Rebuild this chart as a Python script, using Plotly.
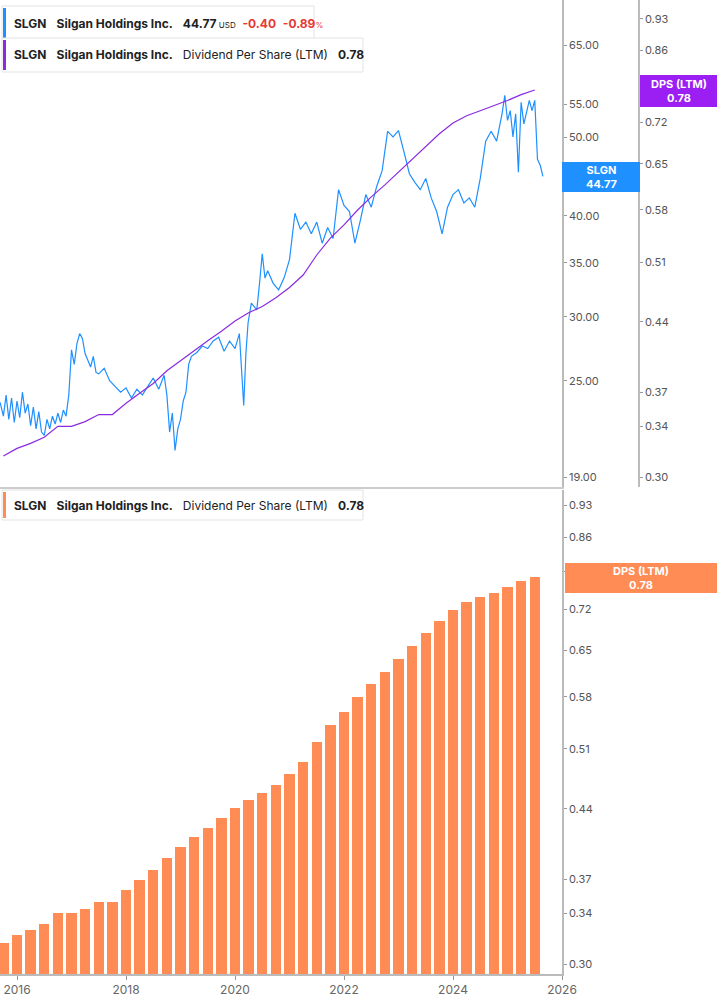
import numpy as np
import plotly.graph_objects as go

# Quarterly DPS (LTM)
dps_t = [2015.75 + 0.25 * i for i in range(40)]
dps_v = [0.316, 0.322, 0.326, 0.331, 0.340, 0.340, 0.344, 0.350, 0.350, 0.360,
         0.369, 0.378, 0.390, 0.400, 0.410, 0.420, 0.430, 0.441, 0.450, 0.457,
         0.467, 0.479, 0.494, 0.519, 0.541, 0.559, 0.580, 0.599, 0.617, 0.637,
         0.658, 0.679, 0.700, 0.719, 0.732, 0.741, 0.750, 0.760, 0.771, 0.780]

# Price (approximate readings)
px_t = [2015.69, 2015.75, 2015.8, 2015.85, 2015.9, 2015.95, 2016.0, 2016.05, 2016.1, 2016.15, 2016.2,
        2016.25, 2016.3, 2016.35, 2016.4, 2016.45, 2016.5, 2016.55, 2016.6, 2016.65, 2016.7,
        2016.75, 2016.8, 2016.85, 2016.9, 2016.95, 2017.0, 2017.05, 2017.1, 2017.15, 2017.2,
        2017.25, 2017.3, 2017.35, 2017.4, 2017.45, 2017.5, 2017.6, 2017.7, 2017.8, 2017.9,
        2018.0, 2018.1, 2018.2, 2018.3, 2018.4, 2018.5, 2018.6, 2018.7, 2018.75, 2018.8,
        2018.85, 2018.9, 2018.95, 2019.0, 2019.05, 2019.1, 2019.15, 2019.2, 2019.3, 2019.4,
        2019.5, 2019.6, 2019.7, 2019.8, 2019.9, 2020.0, 2020.08, 2020.12, 2020.16, 2020.2,
        2020.24, 2020.3, 2020.4, 2020.45, 2020.5, 2020.55, 2020.6, 2020.7, 2020.8, 2020.9,
        2021.0, 2021.1, 2021.2, 2021.3, 2021.4, 2021.5, 2021.6, 2021.7, 2021.8, 2021.9,
        2022.0, 2022.1, 2022.2, 2022.3, 2022.4, 2022.5, 2022.6, 2022.7, 2022.8, 2022.9,
        2023.0, 2023.1, 2023.2, 2023.3, 2023.4, 2023.5, 2023.6, 2023.7, 2023.8, 2023.9,
        2024.0, 2024.1, 2024.2, 2024.3, 2024.4, 2024.5, 2024.6, 2024.7, 2024.8, 2024.9,
        2024.95, 2025.0, 2025.05, 2025.1, 2025.15, 2025.2, 2025.25, 2025.3, 2025.35, 2025.4,
        2025.45, 2025.5, 2025.55, 2025.6, 2025.65]
px_v = [23.5, 22.6, 24.0, 22.4, 23.8, 22.2, 23.6, 22.5, 24.2, 22.8, 23.4,
        22.0, 23.2, 21.8, 22.9, 21.6, 21.4, 22.4, 21.8, 22.6, 22.1,
        22.8, 22.2, 23.0, 22.6, 24.0, 27.3, 26.2, 27.8, 28.6, 28.2,
        27.0, 26.5, 26.0, 26.8, 25.6, 25.5, 25.9, 25.0, 24.6, 24.2,
        24.5, 23.8, 24.4, 24.0, 24.6, 25.2, 24.4, 25.4, 24.0, 21.6,
        22.8, 20.5, 21.8, 22.4, 23.6, 24.2, 26.2, 26.8, 27.1, 27.6,
        27.4, 28.0, 28.3, 27.2, 28.0, 27.4, 28.6, 26.0, 23.3, 27.0,
        29.5, 31.2, 30.6, 33.0, 35.9, 33.5, 34.2, 33.0, 32.4, 33.5,
        35.3, 40.3, 38.5, 39.3, 38.0, 39.3, 37.0, 38.7, 37.5, 43.1,
        41.2, 40.5, 37.0, 39.5, 42.5, 41.0, 43.5, 45.5, 50.9, 50.1,
        51.0, 48.0, 45.1, 44.0, 43.1, 44.5, 42.1, 40.5, 38.0, 41.0,
        42.5, 43.1, 41.5, 42.1, 41.0, 44.5, 49.5, 50.9, 49.5, 53.5,
        56.4, 52.5, 54.0, 50.1, 53.5, 45.3, 55.3, 52.0, 53.7, 55.6,
        54.0, 55.6, 47.0, 46.2, 44.77]

years = list(range(2016, 2027, 2))
price_ticks = [19, 25, 30, 35, 40, 45, 50, 55, 65]
dps_ticks_top = [0.30, 0.34, 0.37, 0.44, 0.51, 0.58, 0.65, 0.72, 0.86, 0.93]
dps_ticks_bot = [0.30, 0.34, 0.37, 0.44, 0.51, 0.58, 0.65, 0.72, 0.79, 0.86, 0.93]

W, H = 717, 1005
BLUE = "#1E90FF"
PURPLE = "#8A2BE2"
ORANGE = "#FF8C55"
FONT = "Inter"
TICKC = "#555"

fig = go.Figure()
fig.add_trace(go.Scatter(x=px_t, y=px_v, mode="lines", line=dict(color=BLUE, width=1.2),
                         xaxis="x", yaxis="y"))
fig.add_trace(go.Scatter(x=dps_t, y=dps_v, mode="lines", line=dict(color=PURPLE, width=1.2),
                         xaxis="x", yaxis="y2"))
fig.add_trace(go.Bar(x=dps_t, y=dps_v, marker=dict(color=ORANGE, line=dict(width=0)),
                     width=0.19, xaxis="x2", yaxis="y3"))

xr = [2015.688, 2026.0]
xdom = [0, 562 / W]
top_dom = [1 - 487 / H, 1]
bot_dom = [1 - 974 / H, 1 - 490 / H]

def lg(a, b):
    return [np.log10(a), np.log10(b)]

common_y = dict(type="log", side="right", ticks="outside", ticklen=3, tickcolor="#999",
                showgrid=False, zeroline=False, showline=True, linecolor="#bbb", linewidth=1.5,
                automargin=False, tickfont=dict(size=11, color=TICKC, family=FONT))

fig.update_layout(
    width=W, height=H, margin=dict(l=0, r=0, t=0, b=0, autoexpand=False),
    paper_bgcolor="white", plot_bgcolor="white", showlegend=False,
    font=dict(family=FONT, size=11, color=TICKC),
    xaxis=dict(domain=xdom, range=xr, anchor="y", showticklabels=False, showgrid=False,
               zeroline=False, showline=True, linecolor="#ccc", linewidth=1.5, automargin=False),
    xaxis2=dict(domain=xdom, range=xr, anchor="y3", tickvals=years, ticktext=[str(y) for y in years],
                ticks="outside", ticklen=4, tickcolor="#999", showgrid=False, zeroline=False,
                showline=True, linecolor="#bbb", linewidth=2, automargin=False,
                tickfont=dict(size=12, color="#666", family=FONT)),
    yaxis=dict(domain=top_dom, range=lg(18.47, 74.0), anchor="x",
               tickvals=price_ticks, ticktext=["%.2f" % v for v in price_ticks], **common_y),
    yaxis2=dict(domain=top_dom, range=lg(0.2927, 0.974), overlaying="y", anchor="free",
                position=639 / W, tickvals=dps_ticks_top,
                ticktext=["%.2f" % v for v in dps_ticks_top], **common_y),
    yaxis3=dict(domain=bot_dom, range=lg(0.2927, 0.966), anchor="x2",
                tickvals=dps_ticks_bot, ticktext=["%.2f" % v for v in dps_ticks_bot], **common_y),
)

shapes = []
ann = []

def legend_box(y0, y1, x1, color, html):
    shapes.append(dict(type="rect", xref="paper", yref="paper", x0=2 / W, x1=x1 / W,
                       y0=1 - y1 / H, y1=1 - y0 / H, line=dict(color="#e3e3e3", width=1),
                       fillcolor="white"))
    shapes.append(dict(type="rect", xref="paper", yref="paper", x0=3 / W, x1=6 / W,
                       y0=1 - (y1 - 2) / H, y1=1 - (y0 + 2) / H, line=dict(width=0), fillcolor=color))
    ann.append(dict(xref="paper", yref="paper", x=12 / W, y=1 - (y0 + y1) / 2 / H, xanchor="left",
                    yanchor="middle", showarrow=False, text=html,
                    font=dict(family=FONT, size=12, color="#222")))

legend_box(6, 41, 314, BLUE,
           "<b>SLGN</b>   <b>Silgan Holdings Inc.</b>   <b>44.77</b><span style='font-size:8px'> USD</span>"
           "  <b><span style='color:#e53935'>-0.40</span></b>  <b><span style='color:#e53935'>-0.89</span></b>"
           "<span style='font-size:8px;color:#e53935'>%</span>")
legend_box(38, 72, 363, PURPLE,
           "<b>SLGN</b>   <b>Silgan Holdings Inc.</b>   Dividend Per Share (LTM)   <b>0.78</b>")
legend_box(490, 520, 363, ORANGE,
           "<b>SLGN</b>   <b>Silgan Holdings Inc.</b>   Dividend Per Share (LTM)   <b>0.78</b>")

def badge(x0, x1, y0, y1, color, text):
    shapes.append(dict(type="rect", xref="paper", yref="paper", x0=x0 / W, x1=x1 / W,
                       y0=1 - y1 / H, y1=1 - y0 / H, line=dict(width=0), fillcolor=color))
    ann.append(dict(xref="paper", yref="paper", x=(x0 + x1) / 2 / W, y=1 - (y0 + y1) / 2 / H,
                    xanchor="center", yanchor="middle",
                    showarrow=False, text=text, align="center",
                    font=dict(family=FONT, size=11, color="white")))

badge(562, 640, 162, 192, BLUE, "<b>SLGN<br>44.77</b>")
badge(640, 717, 75, 107, "#9B1FF2", "<b>DPS (LTM)<br>0.78</b>")
badge(565, 717, 563, 593, ORANGE, "<b>DPS (LTM)<br>0.78</b>")

fig.update_layout(shapes=shapes, annotations=ann, bargap=0)
fig.write_html("out.html", config={"displayModeBar": False},
               post_script="document.body.style.margin='0';document.body.style.overflow='hidden';")
